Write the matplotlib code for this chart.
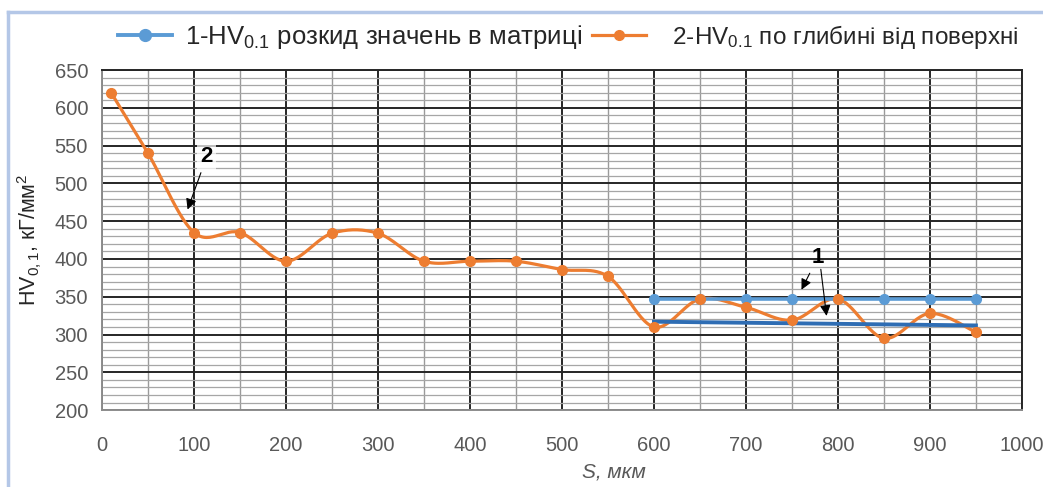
import matplotlib
matplotlib.use("Agg")
import matplotlib.pyplot as plt
from matplotlib.lines import Line2D
from matplotlib.ticker import MultipleLocator
import numpy as np

plt.rcParams['font.family'] = ['Liberation Sans', 'DejaVu Sans']
plt.rcParams['mathtext.fontset'] = 'custom'
plt.rcParams['mathtext.rm'] = 'Liberation Sans'
plt.rcParams['mathtext.it'] = 'Liberation Sans:italic'

# depth profile, S in micrometres
depth = [10, 50, 100, 150, 200, 250, 300, 350, 400, 450, 500, 550,
         600, 650, 700, 750, 800, 850, 900, 950]
hv_depth = [620, 540, 435, 435, 397, 434, 434, 397, 397, 397, 386, 377,
            310, 347, 336, 319, 347, 295, 328, 303]

# hardness scatter in the matrix
matrix_x = [600, 650, 700, 750, 800, 850, 900, 950]
matrix_hv = [347, 347, 347, 347, 347, 347, 347, 347]

# lower bound of the matrix scatter
bound_x = [600, 950]
bound_hv = [317, 312]

label_1 = "1-HV$_{0.1}$ розкид значень в матриці"
label_2 = "  2-HV$_{0.1}$ по глибині від поверхні"

BLUE = '#5B9BD5'
DARK_BLUE = '#2E6DB4'
ORANGE = '#ED7D31'
GRAY_TXT = '#595959'


def smooth(x, y, n=30):
    # cubic bezier through the points, same idea as the spreadsheet "smoothed line"
    x = np.asarray(x, float)
    y = np.asarray(y, float)
    px = np.concatenate([[x[0]], x, [x[-1]]])
    py = np.concatenate([[y[0]], y, [y[-1]]])
    xs, ys = [], []
    t = np.linspace(0, 1, n)
    for i in range(len(x) - 1):
        p0 = np.array([px[i + 1], py[i + 1]])
        p3 = np.array([px[i + 2], py[i + 2]])
        c1 = p0 + (np.array([px[i + 2], py[i + 2]]) - np.array([px[i], py[i]])) / 6
        c2 = p3 - (np.array([px[i + 3], py[i + 3]]) - np.array([px[i + 1], py[i + 1]])) / 6
        b = ((1 - t) ** 3)[:, None] * p0 + (3 * (1 - t) ** 2 * t)[:, None] * c1 \
            + (3 * (1 - t) * t ** 2)[:, None] * c2 + (t ** 3)[:, None] * p3
        xs.append(b[:, 0])
        ys.append(b[:, 1])
    return np.concatenate(xs), np.concatenate(ys)


fig = plt.figure(figsize=(10.43, 4.87), dpi=100)
ax = fig.add_axes([0.0978, 0.158, 0.882, 0.698])

ax.set_xlim(0, 1000)
ax.set_ylim(200, 650)
ax.xaxis.set_major_locator(MultipleLocator(100))
ax.xaxis.set_minor_locator(MultipleLocator(50))
ax.yaxis.set_major_locator(MultipleLocator(50))
ax.yaxis.set_minor_locator(MultipleLocator(10))

ax.grid(which='major', color='#262626', lw=1.4, zorder=0)
ax.grid(which='minor', axis='y', color='#A6A6A6', lw=0.9, zorder=0)
ax.grid(which='minor', axis='x', color='#9A9A9A', lw=1.0, zorder=0)
ax.tick_params(which='both', length=0, labelsize=14.5, labelcolor=GRAY_TXT)
ax.tick_params(axis='x', pad=19)
ax.tick_params(axis='y', pad=10)
for s in ax.spines.values():
    s.set_color('#262626')
    s.set_linewidth(1.4)
ax.spines['left'].set_color('#8C8C8C')
ax.spines['bottom'].set_color('#8C8C8C')

# curve 2: hardness vs depth
sx, sy = smooth(depth, hv_depth)
ax.plot(sx, sy, color=ORANGE, lw=2.3, zorder=3)
ax.plot(depth, hv_depth, 'o', color=ORANGE, ms=7, zorder=4)

# curve 1: matrix scatter band
ax.plot(matrix_x, matrix_hv, '-o', color=BLUE, lw=2.6, ms=7, zorder=3)
ax.plot(bound_x, bound_hv, '-', color=DARK_BLUE, lw=2.8, zorder=3)

ax.set_ylabel("HV$_{0,1}$, кГ/мм$^2$", fontsize=15.5, color='#262626', labelpad=8)
ax.set_xlabel("S, мкм", fontsize=15, color=GRAY_TXT, style='italic')
ax.xaxis.set_label_coords(0.556, -0.155)

# callouts
arr = dict(arrowstyle='-|>', color='black', lw=0.8, mutation_scale=16)
ax.annotate("2", xy=(92, 462), xytext=(114, 536), fontsize=16, fontweight='bold',
            ha='center', va='center', arrowprops=arr,
            bbox=dict(boxstyle='square,pad=0.15', fc='white', ec='none', alpha=0.7))
ax.annotate("1", xy=(759, 356), xytext=(778, 402), fontsize=16, fontweight='bold',
            ha='center', va='center', arrowprops=arr)
ax.annotate("", xy=(788, 321), xytext=(781, 390), arrowprops=arr)

handles = [Line2D([], [], color=BLUE, lw=2.8, marker='o', ms=8.5),
           Line2D([], [], color=ORANGE, lw=2.3, marker='o', ms=7)]
leg = fig.legend(handles, [label_1, label_2], loc='center', bbox_to_anchor=(0.545, 0.925),
                 ncol=2, frameon=False, fontsize=18.5, handlelength=2.1, columnspacing=0.4,
                 handletextpad=0.5)
leg.get_texts()[1].set_fontsize(17.5)
for t in leg.get_texts():
    t.set_color('#262626')

# light blue border of the chart area
fig.add_artist(Line2D([8 / 1043, 1], [1 - 12 / 487, 1 - 12 / 487], color='#B4C7E7', lw=2.5))
fig.add_artist(Line2D([8 / 1043, 8 / 1043], [0, 1 - 12 / 487], color='#B4C7E7', lw=2.5))

fig.savefig("out.png", dpi=100)
